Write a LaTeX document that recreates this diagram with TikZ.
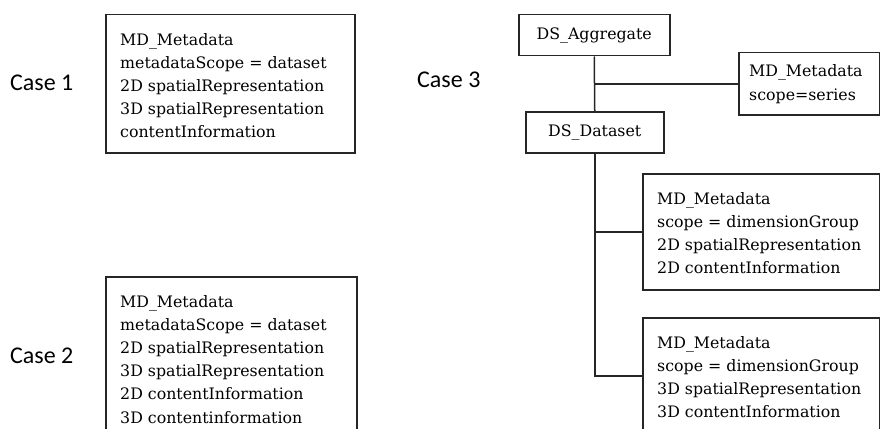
\documentclass[tikz,border=0pt]{standalone}
\usepackage{fontspec}
\setmainfont{DejaVu Serif}
\newfontfamily\casefont{Carlito}
\tikzset{
  box/.style={draw=black!85, line width=1.5pt, rectangle, inner sep=0pt, anchor=north west},
  txt/.style={font=\fontsize{15.8}{23.2}\selectfont, align=left, inner sep=0pt, anchor=base west},
  lbl/.style={font=\casefont\fontsize{24}{28}\selectfont, inner sep=0pt, anchor=base west},
  conn/.style={draw=black!85, line width=1.5pt}
}
\begin{document}
\begin{tikzpicture}[x=1pt,y=-1pt]
\useasboundingbox (0,0) rectangle (880,428);
\clip (0,0) rectangle (880,428);
% Case labels
\node[lbl] (case1) at (10,90) {Case 1};
\node[lbl] (case2) at (10,363) {Case 2};
\node[lbl] (case3) at (417,88) {Case 3};
% Case 1 (base anchor = baseline of last line)
\node[box, minimum width=249pt, minimum height=138pt] (b1) at (105,14) {};
\node[txt] (t1) at (120,137.8) {MD\_Metadata\\metadataScope = dataset\\2D spatialRepresentation\\3D spatialRepresentation\\contentInformation};
% Case 2
\node[box, minimum width=251pt, minimum height=160pt] (b2) at (105,276) {};
\node[txt] (t2) at (120,423) {MD\_Metadata\\metadataScope = dataset\\2D spatialRepresentation\\3D spatialRepresentation\\2D contentInformation\\3D contentinformation};
% Case 3
\node[box, minimum width=151pt, minimum height=41pt, font=\fontsize{15.8}{23.2}\selectfont] (agg) at (518,14) {DS\_Aggregate};
\node[box, minimum width=138pt, minimum height=41pt, font=\fontsize{15.8}{23.2}\selectfont] (ds) at (525,111) {DS\_Dataset};
\node[box, minimum width=141pt, minimum height=62pt] (ser) at (738,52) {};
\node[txt] (tser) at (749,100) {MD\_Metadata\\scope=series};
\node[box, minimum width=237pt, minimum height=116pt] (m2) at (642,173) {};
\node[txt] (tm2) at (657,273.6) {MD\_Metadata\\scope = dimensionGroup\\2D spatialRepresentation\\2D contentInformation};
\node[box, minimum width=237pt, minimum height=116pt] (m3) at (642,317) {};
\node[txt] (tm3) at (657,417.6) {MD\_Metadata\\scope = dimensionGroup\\3D spatialRepresentation\\3D contentInformation};
% connectors
\draw[conn] (agg.south) -- (ds.north);
\draw[conn] (agg.south |- ser.west) -- (ser.west);
\draw[conn] (ds.south |- m2.west) -- (m2.west);
\draw[conn] (ds.south) |- (m3.west);
\end{tikzpicture}
\end{document}
